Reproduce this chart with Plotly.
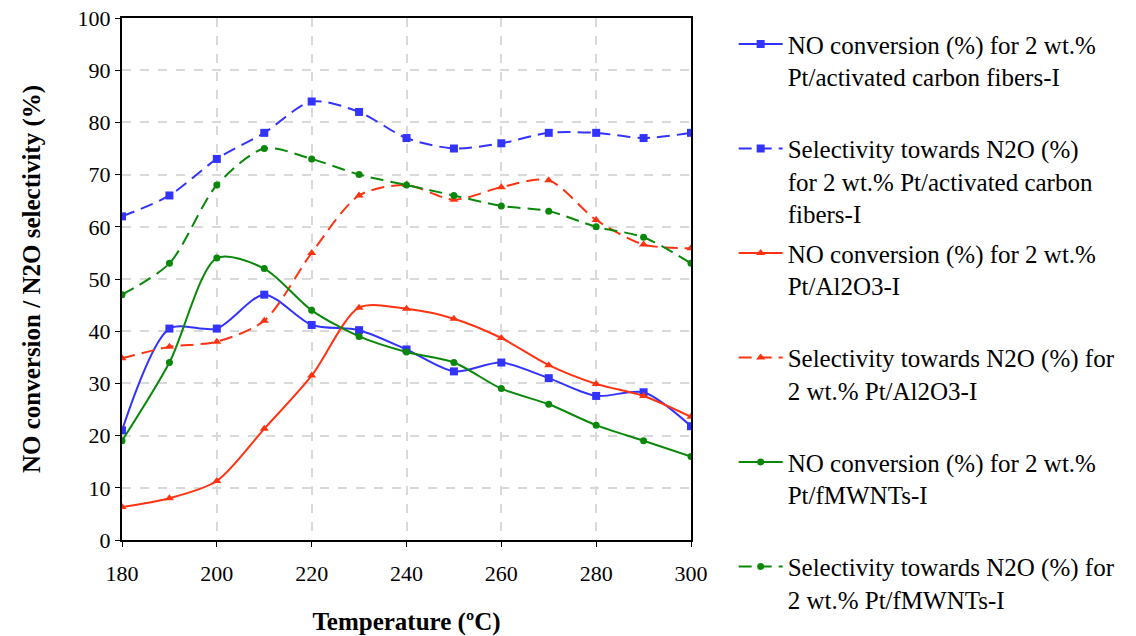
import plotly.graph_objects as go

temps = [180, 190, 200, 210, 220, 230, 240, 250, 260, 270, 280, 290, 300]

no_conv_acf = [21, 40.5, 40.5, 47, 41.2, 40.2, 36.5, 32.3, 34, 31, 27.6, 28.3, 21.8]
sel_acf = [62, 66, 73, 78, 84, 82, 77, 75, 76, 78, 78, 77, 78]
no_conv_al = [6.3, 8, 11.3, 21.3, 31.5, 44.5, 44.3, 42.4, 38.7, 33.5, 29.9, 27.6, 23.6]
sel_al = [34.8, 37, 38, 42, 55, 66, 68, 65.2, 67.6, 68.9, 61.3, 56.6, 55.9]
no_conv_mw = [19, 34, 54, 52, 44, 39, 36, 34, 29, 26, 22, 19, 16]
sel_mw = [47, 53, 68, 75, 73, 70, 68, 66, 64, 63, 60, 58, 53]

names = [
    "NO conversion (%) for 2 wt.%<br>Pt/activated carbon fibers-I<br>\u00a0",
    "Selectivity towards N2O (%)<br>for 2 wt.% Pt/activated carbon<br>fibers-I",
    "NO conversion (%) for 2 wt.%<br>Pt/Al2O3-I<br>\u00a0",
    "Selectivity towards N2O (%) for<br>2 wt.% Pt/Al2O3-I<br>\u00a0",
    "NO conversion (%) for 2 wt.%<br>Pt/fMWNTs-I<br>\u00a0",
    "Selectivity towards N2O (%) for<br>2 wt.% Pt/fMWNTs-I",
]

blue = "#3333ff"
red = "#ff3311"
green = "#0a880a"

series = [
    (no_conv_acf, blue, "solid", "square", 8),
    (sel_acf, blue, "13px,7px", "square", 8),
    (no_conv_al, red, "solid", "triangle-up", 8),
    (sel_al, red, "13px,7px", "triangle-up", 8),
    (no_conv_mw, green, "solid", "circle", 7),
    (sel_mw, green, "13px,7px", "circle", 7),
]

fig = go.Figure()
for (vals, col, dash, sym, ms), nm in zip(series, names):
    fig.add_trace(go.Scatter(
        x=temps, y=vals, name=nm, mode="lines+markers",
        line=dict(color=col, width=2, dash=dash, shape="spline", smoothing=0.8),
        marker=dict(color=col, symbol=sym, size=ms),
        legendgroup=nm,
    ))

fig.update_layout(
    width=1136, height=636,
    margin=dict(l=122, r=445, t=18, b=96, autoexpand=False),
    paper_bgcolor="white", plot_bgcolor="white",
    font=dict(family="Liberation Serif", size=21, color="black"),
    legend=dict(
        x=1.075, xanchor="left", y=0.994, yanchor="top",
        maxheight=640,
        font=dict(family="Liberation Serif", size=25, color="black"),
        valign="top", tracegroupgap=4, itemwidth=44,
        bgcolor="rgba(0,0,0,0)",
    ),
    xaxis=dict(
        range=[180, 300], tickvals=[180, 200, 220, 240, 260, 280, 300],
        showline=True, linecolor="black", linewidth=2, mirror=True,
        ticks="outside", ticklen=5, tickcolor="black", tickwidth=1,
        showgrid=True, gridcolor="#d9d9d9", griddash="dash", gridwidth=1.5,
        zeroline=False, ticklabelstandoff=8, automargin=False,
        tickfont=dict(family="Liberation Serif", size=22),
        title=dict(text="<b>Temperature (ºC)</b>", font=dict(family="Liberation Serif", size=25), standoff=27),
    ),
    yaxis=dict(
        range=[0, 100], dtick=10,
        showline=True, linecolor="black", linewidth=2, mirror=True,
        ticks="outside", ticklen=5, tickcolor="black", tickwidth=1,
        showgrid=True, gridcolor="#d9d9d9", griddash="dash", gridwidth=1.5,
        zeroline=False, automargin=False,
        tickfont=dict(family="Liberation Serif", size=22),
        title=dict(text="<b>NO conversion / N2O selectivity (%)</b>", font=dict(family="Liberation Serif", size=25), standoff=30),
    ),
)

fig.write_html("out.html")
